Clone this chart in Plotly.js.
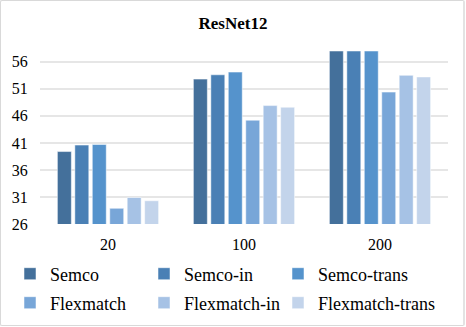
<!DOCTYPE html>
<html><head><meta charset="utf-8">
<script src="https://cdn.plot.ly/plotly-3.0.1.min.js"></script>
<style>
html,body{margin:0;padding:0;background:#fff;}
#wrap{position:absolute;left:0;top:0;width:462px;height:324px;border:1px solid #d9d9d9;border-right:2px solid #e3e3e3;border-radius:2px;}
#chart{position:absolute;left:0;top:0;width:466px;height:327px;}
</style></head><body>
<div id="wrap"></div>
<div id="chart"></div>
<script>
const categories = ['20', '100', '200'];
const seriesNames = ['Semco', 'Semco-in', 'Semco-trans', 'Flexmatch', 'Flexmatch-in', 'Flexmatch-trans'];
const semco = [39.4, 52.8, 58.0];
const semcoIn = [40.6, 53.6, 58.0];
const semcoTrans = [40.7, 54.1, 58.0];
const flexmatch = [28.9, 45.2, 50.4];
const flexmatchIn = [30.9, 47.9, 53.5];
const flexmatchTrans = [30.3, 47.6, 53.2];
const yTicks = [26, 31, 36, 41, 46, 51, 56];
const colors = ['#44709b', '#4a80b5', '#5593cc', '#78a6d8', '#a6c2e5', '#c3d4eb'];

const values = [semco, semcoIn, semcoTrans, flexmatch, flexmatchIn, flexmatchTrans];
const font = '"Liberation Serif", "Times New Roman", serif';
const legendIds = ['legend', 'legend2', 'legend3', 'legend4', 'legend5', 'legend6'];
const traces = values.map((v, i) => ({
  type: 'bar', name: seriesNames[i], x: categories, y: v,
  legend: legendIds[i],
  marker: {color: colors[i], line: {color: 'rgba(255,255,255,0.5)', width: 1}},
  hoverinfo: 'skip'
}));
// legend placement (paper px of legend left edge, row centre)
const legX = [10, 144, 278];
const legY = [274, 303];
const plotL = 40, plotW = 408, plotB = 224, plotH = 173;
const layout = {
  width: 466, height: 327,
  paper_bgcolor: 'rgba(0,0,0,0)', plot_bgcolor: 'rgba(0,0,0,0)',
  margin: {l: 40, r: 18, t: 51, b: 103, autoexpand: false},
  title: {text: '<b>ResNet12</b>', font: {family: font, size: 17, color: '#000'}, x: 0.5, xanchor: 'center', y: 0.931, yanchor: 'middle'},
  barmode: 'group', bargap: 0.23, bargroupgap: 0.2,
  xaxis: {type: 'category', tickfont: {family: font, size: 16, color: '#000'}, showline: false, showgrid: false, zeroline: false,
    ticks: 'outside', ticklen: 6, tickcolor: 'rgba(0,0,0,0)'},
  yaxis: {range: [26, 58], tickvals: yTicks, ticktext: yTicks.map(t => t + '\u2002\u2009'), tickfont: {family: font, size: 16, color: '#000'},
    showgrid: true, gridcolor: '#e6e6e6', gridwidth: 1.5, zeroline: false, showline: false, ticks: ''},
  showlegend: true
};
legendIds.forEach((id, i) => {
  const col = i % 3, row = Math.floor(i / 3);
  layout[id] = {orientation: 'h', xanchor: 'left', yanchor: 'middle',
    x: (legX[col] - plotL) / plotW, y: -(legY[row] - plotB) / plotH,
    font: {family: font, size: 18, color: '#000'}, bgcolor: 'rgba(0,0,0,0)'};
});
Plotly.newPlot('chart', traces, layout, {displayModeBar: false, staticPlot: true});
</script>
</body></html>
